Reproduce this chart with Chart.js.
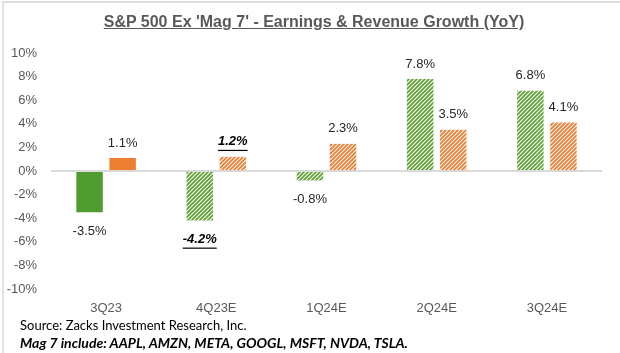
<!DOCTYPE html>
<html>
<head>
<meta charset="utf-8">
<script src="https://cdn.jsdelivr.net/npm/chart.js@4.4.1/dist/chart.umd.min.js"></script>
<style>
    html, body { margin: 0; padding: 0; background: #fff; }
    #wrap {
        position: relative;
        width: 620px;
        height: 353px;
        overflow: hidden;
    }
    #frame {
        position: absolute;
        left: 2px; top: 1px;
        width: 640px; height: 400px;
        border-top: 2px solid #dcdcdc;
        border-left: 2px solid #e2e2e2;
    }
    #chart { position: absolute; left: 0; top: 0; }
    #title {
        position: absolute;
        left: 0; top: 13px;
        width: 628px;
        text-align: center;
        font: bold 16px "Liberation Sans", Arial, sans-serif;
        color: #595959;
        text-decoration: underline;
    }
    .note {
        position: absolute;
        left: 20px;
        font-family: Lato, "Open Sans", sans-serif;
        font-size: 13px;
        color: #000;
    }
    #src { top: 317px; }
    #mag { top: 334px; font-size: 14px; font-weight: bold; font-style: italic; }
</style>
</head>
<body>
<div id="wrap">
    <div id="frame"></div>
    <canvas id="chart" width="620" height="353"></canvas>
    <div id="title">S&amp;P 500 Ex 'Mag 7' - Earnings &amp; Revenue Growth (YoY)</div>
    <div class="note" id="src">Source: Zacks Investment Research, Inc.</div>
    <div class="note" id="mag">Mag 7 include: AAPL, AMZN, META, GOOGL, MSFT, NVDA, TSLA.</div>
</div>

<script>
// chart data
const quarters = ['3Q23', '4Q23E', '1Q24E', '2Q24E', '3Q24E'];
const earningsGrowth = [-3.5, -4.2, -0.8, 7.8, 6.8];
const revenueGrowth = [1.1, 1.2, 2.3, 3.5, 4.1];
const isEstimate = [false, true, true, true, true];
const boldLabels = [false, true, false, false, false];
const yTicks = [-10, -8, -6, -4, -2, 0, 2, 4, 6, 8, 10];

const GREEN = '#509c30';
const GREEN_HATCH = '#5fa337';
const ORANGE = '#ed7d31';

// diagonal stripe pattern for estimated quarters
function makeHatch(color) {
    const size = 4;
    const c = document.createElement('canvas');
    c.width = size;
    c.height = size;
    const g = c.getContext('2d');
    g.fillStyle = '#fff';
    g.fillRect(0, 0, size, size);
    g.strokeStyle = color;
    g.lineWidth = 1.8;
    g.beginPath();
    g.moveTo(-1, size + 1); g.lineTo(size + 1, -1);
    g.moveTo(-1, 1); g.lineTo(1, -1);
    g.moveTo(size - 1, size + 1); g.lineTo(size + 1, size - 1);
    g.stroke();
    return g.createPattern(c, 'repeat');
}

const ctx = document.getElementById('chart').getContext('2d');
const greenHatch = makeHatch(GREEN_HATCH);
const orangeHatch = makeHatch(ORANGE);

// value labels above / below each bar
const valueLabels = {
    id: 'valueLabels',
    afterDatasetsDraw(chart) {
        const c = chart.ctx;
        c.save();
        c.textAlign = 'center';
        c.textBaseline = 'middle';
        chart.data.datasets.forEach((ds, di) => {
            const meta = chart.getDatasetMeta(di);
            meta.data.forEach((bar, i) => {
                const v = ds.data[i];
                const txt = v.toFixed(1) + '%';
                const y = v >= 0 ? bar.y - 15 : bar.y + 19;
                const bold = boldLabels[i];
                c.font = (bold ? 'italic bold ' : '') + '13px "Liberation Sans", Arial, sans-serif';
                c.fillStyle = bold ? '#000' : '#262626';
                c.fillText(txt, bar.x, y);
                if (bold) {
                    const w = c.measureText(txt).width;
                    c.fillRect(bar.x - w / 2, y + 8, w, 1.2);
                }
            });
        });
        c.restore();
    }
};

new Chart(ctx, {
    type: 'bar',
    data: {
        labels: quarters,
        datasets: [
            {
                label: 'Earnings',
                data: earningsGrowth,
                backgroundColor: isEstimate.map(e => e ? greenHatch : GREEN),
                categoryPercentage: 0.6,
                barPercentage: 0.8
            },
            {
                label: 'Revenue',
                data: revenueGrowth,
                backgroundColor: isEstimate.map(e => e ? orangeHatch : ORANGE),
                categoryPercentage: 0.6,
                barPercentage: 0.8
            }
        ]
    },
    options: {
        responsive: false,
        animation: false,
        layout: { padding: { top: 53, right: 18, bottom: 36, left: 0 } },
        plugins: {
            legend: { display: false },
            tooltip: { enabled: false },
            title: { display: false }
        },
        scales: {
            x: {
                grid: { display: false },
                border: { display: false },
                ticks: {
                    color: '#595959',
                    padding: 4,
                    font: { family: '"Liberation Sans", Arial, sans-serif', size: 13 }
                },
                afterFit: (scale) => { scale.height = 28; }
            },
            y: {
                min: -10,
                max: 10,
                afterBuildTicks: (scale) => {
                    scale.ticks = yTicks.map(v => ({ value: v }));
                },
                grid: {
                    drawTicks: false,
                    lineWidth: (c) => c.tick && c.tick.value === 0 ? 2 : 0,
                    color: '#d9d9d9'
                },
                border: { display: false },
                ticks: {
                    color: '#595959',
                    padding: 14,
                    font: { family: '"Liberation Sans", Arial, sans-serif', size: 13 },
                    callback: (v) => v + '%'
                },
                afterFit: (scale) => { scale.width = 51; }
            }
        }
    },
    plugins: [valueLabels]
});
</script>
</body>
</html>
